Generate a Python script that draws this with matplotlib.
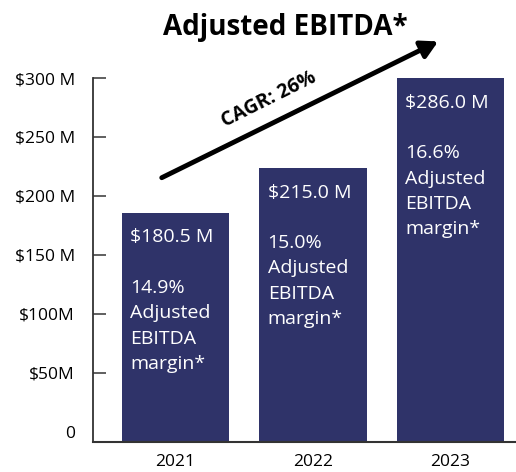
import matplotlib.pyplot as plt

years = ['2021', '2022', '2023']
bar_heights = [186, 224, 300]          # drawn heights of the bars ($M)
value_labels = ['$180.5 M', '$215.0 M', '$286.0 M']
margins = ['14.9%', '15.0%', '16.6%']
ytick_vals = [0, 50, 100, 150, 200, 250, 300]
ytick_labels = ['0', '$50M', '$100M', '$150 M', '$200 M', '$250 M', '$300 M']
cagr_text = 'CAGR: 26%'

navy = '#2f3369'
base = -8.5
plt.rcParams['font.family'] = ['Open Sans', 'DejaVu Sans']

fig = plt.figure(figsize=(5.16, 4.72), dpi=100)
ax = fig.add_axes([93 / 516, 30 / 472, 423 / 516, 364 / 472])

x = list(range(len(years)))
ax.bar(x, [h - base for h in bar_heights], bottom=base, width=0.78,
       color=navy, zorder=2)

for i in x:
    txt = value_labels[i] + '\n\n' + margins[i] + '\nAdjusted\nEBITDA\nmargin*'
    ax.text(i - 0.33, bar_heights[i] - 13.5, txt, color='white', fontsize=14,
            ha='left', va='top', linespacing=1.52, zorder=3)

ax.set_xlim(-0.6, 2.476)
ax.set_ylim(base, 300)
ax.set_xticks(x)
ax.set_xticklabels(years, fontsize=12.5)
ax.set_yticks(ytick_vals)
ax.set_yticklabels(ytick_labels, fontsize=12.5)

ax.tick_params(axis='x', length=0, pad=9)
ax.tick_params(axis='y', direction='in', length=9.5, width=1.2, color='#444444', pad=13)
ax.yaxis.get_major_ticks()[0].tick1line.set_visible(False)

for s in ['top', 'right']:
    ax.spines[s].set_visible(False)
ax.spines['left'].set_bounds(base, 300)
ax.spines['left'].set_color('#333333')
ax.spines['left'].set_linewidth(1.3)
ax.spines['bottom'].set_color('#333333')
ax.spines['bottom'].set_linewidth(1.5)

# growth arrow
ax.annotate('', xy=(1.91, 331), xytext=(-0.1, 215.5),
            arrowprops=dict(arrowstyle='-|>,head_length=1.0,head_width=0.55',
                            lw=3.5, color='black', shrinkA=0, shrinkB=0),
            annotation_clip=False, zorder=4)
ax.text(0.68, 282, cagr_text, rotation=26.5, fontsize=14, fontweight='bold',
        ha='center', va='center', rotation_mode='anchor', zorder=4)

fig.text(285 / 516, 1 - 27 / 472, 'Adjusted EBITDA*', fontsize=20,
         fontweight='bold', ha='center', va='center')

fig.savefig('out.png', dpi=100)
